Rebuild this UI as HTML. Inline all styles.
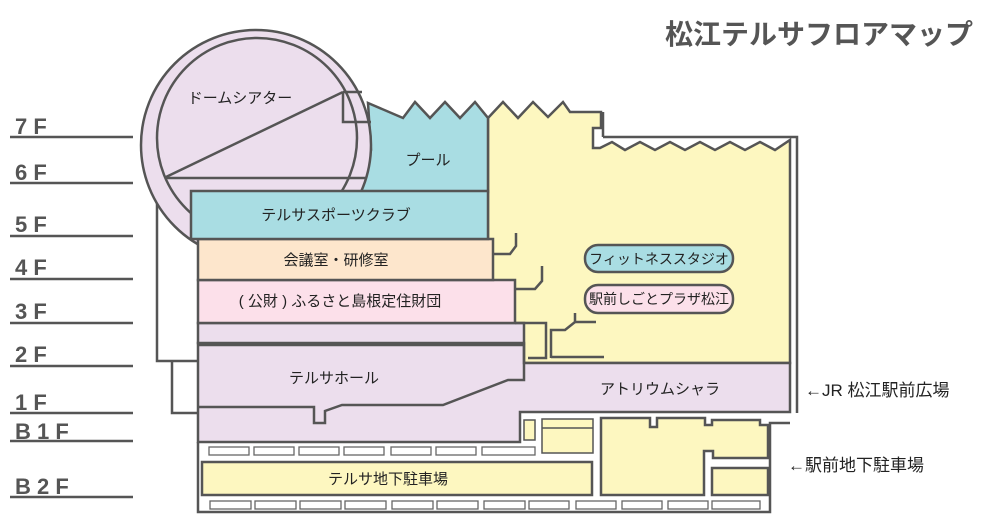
<!DOCTYPE html>
<html><head><meta charset="utf-8"><style>
html,body{margin:0;padding:0;background:#fff;}
svg{display:block;font-family:"Liberation Sans","Noto Sans CJK JP",sans-serif;}
text{fill:#222;}
</style></head><body>
<svg width="990" height="528" viewBox="0 0 990 528" xmlns="http://www.w3.org/2000/svg">
<g stroke="#555" stroke-width="2.5" fill="none">
<line x1="10" y1="137" x2="133" y2="137"/><line x1="10" y1="183" x2="133" y2="183"/>
<line x1="10" y1="236" x2="133" y2="236"/><line x1="10" y1="279" x2="133" y2="279"/>
<line x1="10" y1="323" x2="133" y2="323"/><line x1="10" y1="366" x2="133" y2="366"/>
<line x1="10" y1="413" x2="133" y2="413"/><line x1="10" y1="441" x2="133" y2="441"/>
<line x1="10" y1="497" x2="133" y2="497"/>
<polyline points="157,195 157,361 198,361"/>
<polyline points="172,361 172,413 198,413"/>
</g>
<g stroke="#555" stroke-width="2.5">
<polygon fill="#fdf7c0" points="488,118 503,102 518,118 533,102 548,117 563,102 570,112 601,112 601,128 593,128 593,148 600,148 612,142 625,150 640,142 655,150 670,142 685,150 700,142 715,150 730,142 745,150 760,142 775,150 790,140 790,363 488,363"/>
<line x1="603" y1="112" x2="603" y2="137"/><polyline fill="none" points="603,137 797,137 797,413"/>
<polygon fill="#a9dde3" points="368,103 403,118 415,102 430,118 445,102 460,118 475,102 488,118 488,192 360,192 371,150"/>
<circle cx="256" cy="145" r="115" fill="#ecdeed"/>
<circle cx="257" cy="138" r="100" fill="#ecdeed"/>
<line x1="343" y1="92" x2="166" y2="177" fill="none"/>
<line x1="166" y1="178" x2="366" y2="178"/>
<polyline fill="none" points="343,92 343,122 371,122"/>
<line x1="343" y1="92" x2="362" y2="92"/>
<polygon fill="#ecdeed" points="198,343 524,343 524,363 790,363 790,412 520,412 520,442 198,442"/>
<polyline fill="none" points="198,345 524,345 524,380 508,380 443,405 342,405 325,411 325,423 314,423 314,407 198,407"/>
<rect x="198" y="323" width="326" height="20" fill="#ecdeed"/>
<rect x="198" y="280" width="317" height="43" fill="#fce0ea"/>
<rect x="198" y="239" width="295" height="41" fill="#fde6cc"/>
<rect x="191" y="191" width="297" height="48" fill="#a9dde3"/>
<g fill="none">
<polyline points="493,254 510,254 516,246 516,233"/>
<polyline points="515,289 535,289 542,281 542,266"/>
<polyline points="515,323 546,323 546,358 528,358"/>
<polyline points="551,358 551,330 565,330 575,322 575,313"/>
<line x1="575" y1="322" x2="596" y2="322"/>
<line x1="551" y1="357" x2="604" y2="357"/>
</g>
<polyline fill="none" points="198,442 198,512 770,512 770,423 790,423"/>
<rect x="202" y="462" width="390" height="33" fill="#fdf7c0"/>
<rect x="524" y="420" width="11" height="20" fill="#fdf7c0" stroke-width="1.5"/>
<rect x="542" y="419" width="51" height="34" fill="#fdf7c0" stroke-width="1.5"/>
<line x1="542" y1="428" x2="593" y2="428" stroke-width="1.5"/>
<polygon fill="#fdf7c0" points="601,418 650,418 650,427 657,427 657,418 705,418 705,425 712,425 712,420 760,420 760,425 768,425 768,458 713,458 713,451 704,451 704,495 601,495"/>
<rect x="712" y="468" width="56" height="27" fill="#fdf7c0"/>
</g>
<g fill="#fff" stroke="#666" stroke-width="1.3">
<rect x="209" y="447" width="40" height="8"/><rect x="254" y="447" width="40" height="8"/><rect x="299" y="447" width="40" height="8"/><rect x="344" y="447" width="40" height="8"/><rect x="391" y="447" width="40" height="8"/><rect x="436" y="447" width="40" height="8"/><rect x="482" y="447" width="53" height="8"/>
<rect x="210" y="501" width="41" height="8"/><rect x="255" y="501" width="41" height="8"/><rect x="300" y="501" width="41" height="8"/><rect x="345" y="501" width="41" height="8"/><rect x="392" y="501" width="41" height="8"/><rect x="437" y="501" width="41" height="8"/><rect x="484" y="501" width="41" height="8"/><rect x="529" y="501" width="40" height="8"/><rect x="576" y="501" width="40" height="8"/><rect x="622" y="501" width="40" height="8"/><rect x="668" y="501" width="40" height="8"/><rect x="712" y="501" width="48" height="8"/>
</g>
<rect x="585" y="245" width="148" height="27" rx="13" fill="#a9dde3" stroke="#555" stroke-width="2.5"/>
<rect x="585" y="285" width="148" height="28" rx="13" fill="#fce0ea" stroke="#555" stroke-width="2.5"/>
<g font-size="15">
<text x="240" y="103" text-anchor="middle">ドームシアター</text>
<text x="428" y="165" text-anchor="middle">プール</text>
<text x="336" y="220" text-anchor="middle">テルサスポーツクラブ</text>
<text x="336" y="265" text-anchor="middle">会議室・研修室</text>
<text x="340" y="306" text-anchor="middle">( 公財 ) ふるさと島根定住財団</text>
<text x="334" y="383" text-anchor="middle">テルサホール</text>
<text x="660" y="394" text-anchor="middle">アトリウムシャラ</text>
<text x="388" y="484" text-anchor="middle">テルサ地下駐車場</text>
<text x="659" y="264" text-anchor="middle" font-size="14">フィットネススタジオ</text>
<text x="659" y="304" text-anchor="middle" font-size="14">駅前しごとプラザ松江</text>
</g>
<g font-size="17">
<text x="805" y="396">←JR 松江駅前広場</text>
<text x="788" y="471">←駅前地下駐車場</text>
</g>
<g font-size="22" font-weight="bold" style="fill:#555">
<text x="15" y="134" style="fill:#555">7 F</text><text x="15" y="180" style="fill:#555">6 F</text>
<text x="15" y="232" style="fill:#555">5 F</text><text x="15" y="275" style="fill:#555">4 F</text>
<text x="15" y="319" style="fill:#555">3 F</text><text x="15" y="362" style="fill:#555">2 F</text>
<text x="15" y="410" style="fill:#555">1 F</text><text x="15" y="439" style="fill:#555">B 1 F</text>
<text x="15" y="494" style="fill:#555">B 2 F</text>
</g>
<text x="665" y="44" font-size="28" font-weight="bold" style="fill:#555">松江テルサフロアマップ</text>
</svg>
</body></html>
